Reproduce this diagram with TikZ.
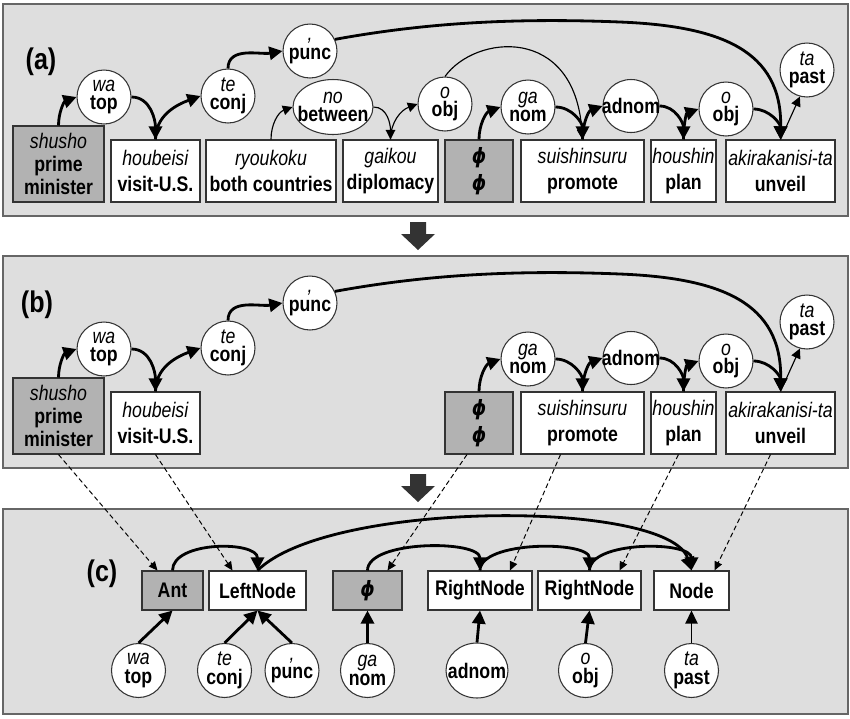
\documentclass[tikz,border=0pt]{standalone}
\usepackage{fontspec}
\setmainfont{Liberation Sans}[FakeStretch=0.84]
\newfontfamily\phifont{DejaVu Sans}[FakeStretch=0.86]
\usetikzlibrary{arrows.meta,shapes.geometric}

\newcommand{\ph}{{\phifont\bfseries\itshape ϕ}}

\tikzset{
  panel/.style={draw=black!60, fill=black!13, line width=0.7pt},
  bigarrow/.style={fill=black!80, draw=none},
  wbox/.style={draw=black!80, fill=white, line width=0.6pt, align=center,
    inner sep=0pt, minimum height=1.24cm, font=\fontsize{12}{15}\selectfont},
  gbox/.style={wbox, fill=black!30},
  tallbox/.style={gbox, minimum height=1.52cm, font=\fontsize{12}{13.3}\selectfont},
  cbox/.style={wbox, minimum height=0.78cm},
  cgbox/.style={gbox, minimum height=0.78cm},
  morph/.style={circle, draw=black!80, fill=white, line width=0.6pt, align=center,
    inner sep=0pt, minimum size=1.08cm, font=\fontsize{12}{10.5}\selectfont},
  wmorph/.style={morph, ellipse, inner xsep=-0.3cm, minimum width=#1, minimum height=1.1cm},
  dep/.style={line width=1.6pt, -{Triangle[length=7.5pt,width=7.5pt]}},
  thindep/.style={line width=0.65pt, -{Triangle[length=5.5pt,width=5.5pt]}},
  pastdep/.style={line width=1pt, -{Triangle[length=7.5pt,width=7pt]}},
  proj/.style={line width=0.55pt, dash pattern=on 2.8pt off 1.7pt, -{Triangle[length=5pt,width=4.5pt]}},
  tag/.style={font=\fontsize{17}{20}\selectfont\bfseries}
}

\begin{document}
\begin{tikzpicture}[x=0.02cm, y=-0.02cm]
\useasboundingbox (0,0) rectangle (850,718);

\filldraw[panel] (3,4) rectangle (848,216);
\filldraw[panel] (3,256) rectangle (848,468);
\filldraw[panel] (3,509) rectangle (848,714);

\fill[bigarrow] (410,222) -- (426,222) -- (426,234) -- (435,234) -- (418,250) -- (401,234) -- (410,234) -- cycle;
\fill[bigarrow] (410,474) -- (426,474) -- (426,486) -- (435,486) -- (418,502) -- (401,486) -- (410,486) -- cycle;

\node[tag] (a-tag) at (41,62) {(a)};
\node[tag] (b-tag) at (37,305) {(b)};
\node[tag] (c-tag) at (102,574) {(c)};

% (a)
\node[tallbox, minimum width=1.82cm] (a-shusho) at (58.5,164) {\textit{shusho}\\\textbf{prime}\\\textbf{minister}};
\node[wbox, minimum width=1.78cm] (a-houbeisi) at (155.5,171) {\textit{houbeisi}\\\textbf{visit-U.S.}};
\node[wbox, minimum width=2.6cm] (a-ryoukoku) at (271,171) {\textit{ryoukoku}\\\textbf{both countries}};
\node[wbox, minimum width=1.9cm] (a-gaikou) at (390.5,171) {\textit{gaikou}\\\textbf{diplomacy}};
\node[gbox, minimum width=1.36cm] (a-phi) at (479,171) {\ph\\\ph};
\node[wbox, minimum width=2.46cm] (a-suishin) at (582.5,171) {\textit{suishinsuru}\\\textbf{promote}};
\node[wbox, minimum width=1.3cm] (a-houshin) at (683.5,171) {\textit{houshin}\\\textbf{plan}};
\node[wbox, minimum width=2.18cm] (a-akira) at (780.5,171) {\textit{akirakanisi-ta}\\\textbf{unveil}};

\node[morph] (a-wa) at (104,97) {\textit{wa}\\\textbf{top}};
\node[morph] (a-te) at (228,96) {\textit{te}\\\textbf{conj}};
\node[morph] (a-punc) at (310,51) {\textit{,}\\\textbf{punc}};
\node[wmorph=1.6cm] (a-no) at (333,107) {\textit{no}\\\textbf{between}};
\node[morph] (a-o1) at (445,104) {\textit{o}\\\textbf{obj}};
\node[morph] (a-ga) at (528,107) {\textit{ga}\\\textbf{nom}};
\node[wmorph=1.12cm, minimum height=1.06cm] (a-adnom) at (631,106) {\textbf{adnom}};
\node[morph] (a-o2) at (726,109) {\textit{o}\\\textbf{obj}};
\node[morph] (a-ta) at (807,70) {\textit{ta}\\\textbf{past}};

\draw[dep] (a-shusho.north) to[out=90,in=200] (a-wa.west);
\draw[dep] (a-wa.east) to[out=0,in=90] (a-houbeisi.north);
\draw[dep] (a-houbeisi.north) to[out=90,in=200] (a-te.west);
\draw[dep] (a-te.north) to[out=90,in=190] (a-punc.west);
\draw[dep] (a-punc.25) .. controls (430,22) and (520,18) .. (620,22) .. controls (720,26) and (782,50) .. (a-akira.north);
\draw[thindep] (a-ryoukoku.north) to[out=90,in=200] (a-no.west);
\draw[thindep] (a-no.east) to[out=0,in=90] (a-gaikou.north);
\draw[thindep] (a-gaikou.north) to[out=90,in=200] (a-o1.west);
\draw[thindep] (a-o1.north) .. controls +(30,-42) and +(-8,-115) .. (a-suishin.north);
\draw[dep] (a-phi.north) to[out=90,in=200] (a-ga.west);
\draw[dep] (a-ga.east) to[out=0,in=90] (a-suishin.north);
\draw[dep] (a-suishin.north) to[out=90,in=200] (a-adnom.west);
\draw[dep] (a-adnom.east) to[out=0,in=90] (a-houshin.north);
\draw[dep] (a-houshin.north) to[out=90,in=200] (a-o2.west);
\draw[dep] (a-o2.east) to[out=0,in=90] (a-akira.north);
\draw[thindep] (a-akira.north) -- (a-ta.255);

% (b)
\node[tallbox, minimum width=1.82cm] (b-shusho) at (58.5,416) {\textit{shusho}\\\textbf{prime}\\\textbf{minister}};
\node[wbox, minimum width=1.78cm] (b-houbeisi) at (155.5,423) {\textit{houbeisi}\\\textbf{visit-U.S.}};
\node[gbox, minimum width=1.36cm] (b-phi) at (479,423) {\ph\\\ph};
\node[wbox, minimum width=2.46cm] (b-suishin) at (582.5,423) {\textit{suishinsuru}\\\textbf{promote}};
\node[wbox, minimum width=1.3cm] (b-houshin) at (683.5,423) {\textit{houshin}\\\textbf{plan}};
\node[wbox, minimum width=2.18cm] (b-akira) at (780.5,423) {\textit{akirakanisi-ta}\\\textbf{unveil}};

\node[morph] (b-wa) at (104,349) {\textit{wa}\\\textbf{top}};
\node[morph] (b-te) at (228,348) {\textit{te}\\\textbf{conj}};
\node[morph] (b-punc) at (310,303) {\textit{,}\\\textbf{punc}};
\node[morph] (b-ga) at (528,359) {\textit{ga}\\\textbf{nom}};
\node[wmorph=1.12cm, minimum height=1.06cm] (b-adnom) at (631,358) {\textbf{adnom}};
\node[morph] (b-o) at (726,361) {\textit{o}\\\textbf{obj}};
\node[morph] (b-ta) at (807,322) {\textit{ta}\\\textbf{past}};

\draw[dep] (b-shusho.north) to[out=90,in=200] (b-wa.west);
\draw[dep] (b-wa.east) to[out=0,in=90] (b-houbeisi.north);
\draw[dep] (b-houbeisi.north) to[out=90,in=200] (b-te.west);
\draw[dep] (b-te.north) to[out=90,in=190] (b-punc.west);
\draw[dep] (b-punc.25) .. controls (430,274) and (520,270) .. (620,274) .. controls (720,278) and (782,302) .. (b-akira.north);
\draw[dep] (b-phi.north) to[out=90,in=200] (b-ga.west);
\draw[dep] (b-ga.east) to[out=0,in=90] (b-suishin.north);
\draw[dep] (b-suishin.north) to[out=90,in=200] (b-adnom.west);
\draw[dep] (b-adnom.east) to[out=0,in=90] (b-houshin.north);
\draw[dep] (b-houshin.north) to[out=90,in=200] (b-o.west);
\draw[dep] (b-o.east) to[out=0,in=90] (b-akira.north);
\draw[thindep] (b-akira.north) -- (b-ta.255);

% (c)
\node[cgbox, minimum width=1.22cm] (c-ant) at (172.5,590.5) {\textbf{Ant}};
\node[cbox, minimum width=1.94cm] (c-left) at (257.5,590.5) {\textbf{LeftNode}};
\node[cgbox, minimum width=1.38cm] (c-phi) at (367.5,590.5) {\ph};
\node[cbox, minimum width=2.08cm] (c-rn1) at (480,590.5) {\textbf{RightNode}};
\node[cbox, minimum width=2.06cm] (c-rn2) at (589.5,590.5) {\textbf{RightNode}};
\node[cbox, minimum width=1.5cm] (c-node) at (691.5,590.5) {\textbf{Node}};

\node[morph] (c-wa) at (138.5,670.5) {\textit{wa}\\\textbf{top}};
\node[morph] (c-te) at (224.5,670.5) {\textit{te}\\\textbf{conj}};
\node[morph] (c-punc) at (292,670.5) {\textit{,}\\\textbf{punc}};
\node[morph] (c-ga) at (367.5,670.5) {\textit{ga}\\\textbf{nom}};
\node[wmorph=1.24cm] (c-adnom) at (477,670.5) {\textbf{adnom}};
\node[morph] (c-o) at (585.5,670.5) {\textit{o}\\\textbf{obj}};
\node[morph] (c-ta) at (691.5,670.5) {\textit{ta}\\\textbf{past}};

\draw[dep] (c-wa.north) -- (c-ant.south);
\draw[dep] (c-te.north) -- (c-left.south);
\draw[dep] (c-punc.north) -- (c-left.south);
\draw[dep] (c-ga.north) -- (c-phi.south);
\draw[dep] (c-adnom.north) -- (c-rn1.south);
\draw[dep] (c-o.north) -- (c-rn2.south);
\draw[pastdep] (c-ta.north) -- (c-node.south);

\draw[dep] (c-ant.north) to[out=90,in=90,looseness=0.9] (c-left.north);
\draw[dep] (c-left.north) .. controls +(72,-71) and +(-22,-71) .. (c-node.north);
\draw[dep] (c-phi.north) to[out=90,in=90,looseness=0.7] (c-rn1.north);
\draw[dep] (c-rn1.north) to[out=90,in=90,looseness=0.7] (c-rn2.north);
\draw[dep] (c-rn2.north) to[out=90,in=90,looseness=0.75] (c-node.north);

\draw[proj] (b-shusho.south) -- ([xshift=-0.3cm]c-ant.north);
\draw[proj] (b-houbeisi.south) -- ([xshift=-0.5cm]c-left.north);
\draw[proj] ([xshift=-0.24cm]b-phi.south) -- ([xshift=0.4cm]c-phi.north);
\draw[proj] ([xshift=-0.44cm]b-suishin.south) -- ([xshift=0.6cm]c-rn1.north);
\draw[proj] ([xshift=-0.1cm]b-houshin.south) -- ([xshift=0.6cm]c-rn2.north);
\draw[proj] ([xshift=-0.2cm]b-akira.south) -- ([xshift=0.46cm]c-node.north);
\end{tikzpicture}
\end{document}
